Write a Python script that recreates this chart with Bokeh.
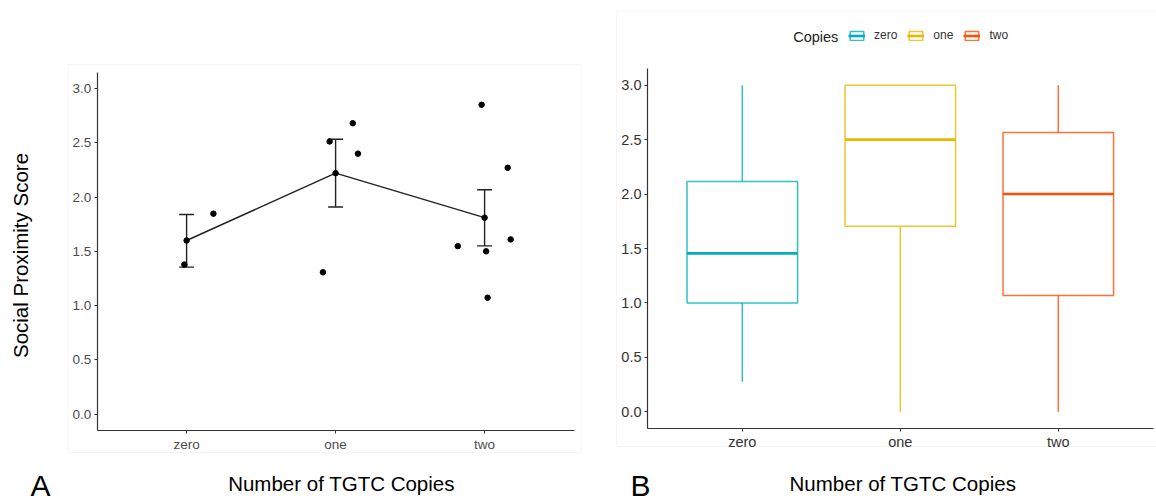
import math
from bokeh.plotting import figure
from bokeh.models import (Range1d, FixedTicker, Label, BoxAnnotation, Legend,
                          LegendItem, ColumnDataSource)
from bokeh.layouts import row
from bokeh.embed import file_html
from bokeh.resources import INLINE

FONT = "Liberation Sans"

# ---------------- data ----------------
categories = ["zero", "one", "two"]
y_ticks = [0.0, 0.5, 1.0, 1.5, 2.0, 2.5, 3.0]
y_tick_labels = ["0.0", "0.5", "1.0", "1.5", "2.0", "2.5", "3.0"]

# Panel A: group means with error bars, plus individual (jittered) points
group_mean = [1.60, 2.22, 1.81]
group_lower = [1.355, 1.908, 1.55]
group_upper = [1.84, 2.533, 2.068]

point_group = ["zero", "zero", "one", "one", "one", "one",
               "two", "two", "two", "two", "two", "two"]
point_jitter = [-0.015, 0.18, -0.04, 0.115, 0.15, -0.085,
                -0.02, 0.155, -0.18, 0.01, 0.175, 0.02]
point_score = [1.378, 1.847, 2.512, 2.68, 2.40, 1.307,
               2.85, 2.27, 1.548, 1.50, 1.61, 1.073]

# Panel B: box plot statistics
box_low = [0.276, 0.0, 0.0]
box_q1 = [1.0, 1.705, 1.069]
box_median = [1.455, 2.5, 2.0]
box_q3 = [2.116, 3.0, 2.566]
box_high = [3.0, 3.0, 3.0]
box_colors = ["#00AFBB", "#E7B800", "#FC4E07"]

legend_title = "Copies"
x_title = "Number of TGTC Copies"
y_title = "Social Proximity Score"
panel_tags = ["A", "B"]

# axis extents (ggplot-style expansion)
X_LO, X_HI = 0.4, 3.6
Y_LO, Y_HI = -0.15, 3.15

H = 502
WA = 608
WB = 548

# ---------------- helpers ----------------
cat_pos = {c: i + 1 for i, c in enumerate(categories)}
label_over = {i + 1: c for i, c in enumerate(categories)}
ytick_over = {t: s for t, s in zip(y_ticks, y_tick_labels)}


def make_fig(width, height, frame_l, frame_r, frame_t, frame_b):
    """Figure whose frame fills the canvas; the axis box sits at the given
    canvas pixels (frame_l..frame_r, frame_t..frame_b)."""
    xs = (frame_r - frame_l) / (X_HI - X_LO)
    ys = (frame_b - frame_t) / (Y_HI - Y_LO)
    xr = Range1d(X_LO - frame_l / xs, X_LO + (width - frame_l) / xs)
    yr = Range1d(Y_LO - (height - frame_b) / ys, Y_HI + frame_t / ys)
    p = figure(width=width, height=height, x_range=xr, y_range=yr,
               output_backend="svg", toolbar_location=None,
               min_border=0, min_border_left=0, min_border_right=0,
               min_border_top=0, min_border_bottom=0)
    p.xgrid.visible = False
    p.ygrid.visible = False
    p.outline_line_color = None
    p.background_fill_color = "white"
    p.border_fill_color = "white"
    return p


def style_axes(p, tick_size, tick_color):
    p.xaxis.fixed_location = Y_LO
    p.xaxis.bounds = (X_LO, X_HI)
    p.yaxis.fixed_location = X_LO
    p.yaxis.bounds = (Y_LO, Y_HI)
    p.xaxis.ticker = FixedTicker(ticks=list(label_over.keys()))
    p.xaxis.major_label_overrides = label_over
    p.yaxis.ticker = FixedTicker(ticks=y_ticks)
    p.yaxis.major_label_overrides = ytick_over
    for ax in (p.xaxis, p.yaxis):
        ax.axis_line_color = "#333333"
        ax.axis_line_width = 1.2
        ax.major_tick_line_color = "#333333"
        ax.major_tick_line_width = 1.0
        ax.major_tick_in = 0
        ax.major_tick_out = 3
        ax.minor_tick_line_color = None
        ax.major_label_text_font = FONT
        ax.major_label_text_font_size = tick_size
        ax.major_label_text_color = tick_color
        ax.major_label_standoff = 3


def canvas_label(p, x, y, text, size, align="center", baseline="middle",
                 angle=0.0, color="black"):
    p.add_layout(Label(x=x, y=y, x_units="canvas", y_units="canvas",
                       text=text, angle=angle, text_align=align,
                       text_baseline=baseline, text_font=FONT,
                       text_font_size=size, text_color=color))


def panel_box(p, l, r, t, b):
    p.add_layout(BoxAnnotation(left=l, right=r, top=t, bottom=b,
                               left_units="canvas", right_units="canvas",
                               top_units="canvas", bottom_units="canvas",
                               fill_alpha=0, line_color="#DDDDDD",
                               line_width=1, level="underlay"))


# ---------------- Panel A ----------------
pA = make_fig(WA, H, 96.7, 573.5, 71.7, 430.0)
panel_box(pA, 67.7, 580.5, 64, 452)
style_axes(pA, "13.5px", "#4D4D4D")

gx = [cat_pos[c] for c in categories]
src_err = ColumnDataSource(dict(x=gx, lo=group_lower, hi=group_upper,
                                xl=[v - 0.05 for v in gx],
                                xr=[v + 0.05 for v in gx]))
for y0, y1, x0, x1 in (("lo", "hi", "x", "x"), ("lo", "lo", "xl", "xr"),
                       ("hi", "hi", "xl", "xr")):
    pA.segment(x0=x0, y0=y0, x1=x1, y1=y1, source=src_err,
               line_color="#222222", line_width=1.4)
pA.line(gx, group_mean, line_color="#222222", line_width=1.4)
pA.scatter(gx, group_mean, size=5.5, color="black")

px = [cat_pos[g] + j for g, j in zip(point_group, point_jitter)]
pA.scatter(px, point_score, size=5.5, color="black")

canvas_label(pA, 19.5, 255, y_title, "20.5px", angle=math.pi / 2)
canvas_label(pA, 341, 482.5, x_title, "20.5px")
canvas_label(pA, 30, 485, panel_tags[0], "30px", align="left")

# ---------------- Panel B ----------------
OB = WA  # canvas offset of panel B
pB = make_fig(WB, H, 647 - OB, 647 - OB + 158.0 * (X_HI - X_LO), 68.3, 427.7)
panel_box(pB, 616 - OB, 1170 - OB, 10.7, 446)
style_axes(pB, "14.5px", "#333333")

bx = [cat_pos[c] for c in categories]
src_box = ColumnDataSource(dict(
    x=bx, left=[v - 0.35 for v in bx], right=[v + 0.35 for v in bx],
    low=box_low, q1=box_q1, med=box_median, q3=box_q3, high=box_high,
    color=box_colors, label=categories))
pB.segment(x0="x", y0="q3", x1="x", y1="high", source=src_box,
           line_color="color", line_alpha=0.8, line_width=1.5)
pB.segment(x0="x", y0="low", x1="x", y1="q1", source=src_box,
           line_color="color", line_alpha=0.8, line_width=1.5)
boxes = pB.quad(left="left", right="right", bottom="q1", top="q3",
                source=src_box, fill_color="white", line_color="color",
                line_alpha=0.8, line_width=1.5)
medians = pB.segment(x0="left", y0="med", x1="right", y1="med",
                     source=src_box, line_color="color", line_width=2.6)

legend = Legend(items=[LegendItem(label=c, renderers=[boxes, medians], index=i)
                       for i, c in enumerate(categories)],
                orientation="horizontal", location=(848 - OB, H - 42.3),
                glyph_width=17, glyph_height=11, label_standoff=9,
                spacing=10, padding=0, margin=0, border_line_color=None,
                background_fill_alpha=0, label_text_font=FONT,
                label_text_font_size="12px", label_text_color="#333333",
                label_height=11, label_width=0)
pB.add_layout(legend)

canvas_label(pB, 792.7 - OB, 36.7, legend_title, "14.5px", align="left",
             color="#222222")
canvas_label(pB, 902.4 - OB, 482.5, x_title, "20.5px")
canvas_label(pB, 630 - OB, 485, panel_tags[1], "30px", align="left")

layout = row(pA, pB, spacing=0)
open("out.html", "w").write(file_html(layout, INLINE))
